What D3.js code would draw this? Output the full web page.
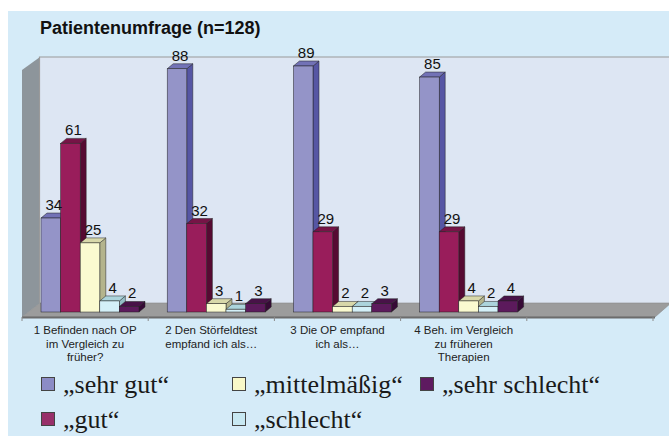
<!DOCTYPE html>
<html>
<head>
<meta charset="utf-8">
<script src="https://cdn.jsdelivr.net/npm/d3@7"></script>
<style>
  body { margin: 0; background: #fff; }
  svg { display: block; }
</style>
</head>
<body>
<svg id="chart"></svg>
<script>
// data
const categories = [
    ["1 Befinden nach OP", "im Vergleich zu", "früher?"],
    ["2 Den Störfeldtest", "empfand ich als…"],
    ["3 Die OP empfand", "ich als…"],
    ["4 Beh. im Vergleich", "zu früheren", "Therapien"]
];
const seriesNames = ["„sehr gut“", "„gut“", "„mittelmäßig“", "„schlecht“", "„sehr schlecht“"];
const sehrGut = [34, 88, 89, 85];
const gut = [61, 32, 29, 29];
const mittel = [25, 3, 2, 4];
const schlecht = [4, 1, 2, 2];
const sehrSchlecht = [2, 3, 3, 4];
const allSeries = [sehrGut, gut, mittel, schlecht, sehrSchlecht];

const colors = [
    { front: "#9494c8", side: "#5656a4", top: "#7272b6", legend: "#8c8cc6" },
    { front: "#991d5b", side: "#560a32", top: "#761446", legend: "#98306a" },
    { front: "#fafad0", side: "#b4b48c", top: "#d8d8aa", legend: "#f8f8c8" },
    { front: "#d4f0f8", side: "#94bec6", top: "#acd4dc", legend: "#c8e8f2" },
    { front: "#5c1a5c", side: "#360a36", top: "#481248", legend: "#5e1a60" }
];

function drawChart() {
    const width = 669, height = 436;
    const svg = d3.select("#chart").attr("width", width).attr("height", height);

    // background
    svg.append("rect").attr("x", 8).attr("y", 11)
        .attr("width", width - 8).attr("height", height - 11)
        .attr("fill", "#d5ebf8");

    svg.append("text")
        .attr("x", 40).attr("y", 34)
        .style("font-family", "Liberation Sans, Arial, sans-serif")
        .style("font-size", "18px").style("font-weight", "bold")
        .attr("fill", "#111")
        .text("Patientenumfrage (n=128)");

    // 3d geometry
    const frontY = 317, backY = 303, barY = 312;
    const dx = 18, dy = 13;          // wall depth
    const bdx = 6, bdy = 5;          // bar depth
    const left = 22, right = 653;

    const y = d3.scaleLinear().domain([0, 89]).range([barY, 66]);
    const wallTop = y(89) - (barY - backY);

    const slots = d3.scaleBand().domain(d3.range(5)).range([left, right]);
    const inner = d3.scaleBand().domain(d3.range(5)).range([19, 19 + 98]);

    // back wall
    svg.append("rect")
        .attr("x", left + dx).attr("y", wallTop)
        .attr("width", width - left - dx).attr("height", backY - wallTop)
        .attr("fill", "#dde6f3");

    // left wall
    svg.append("path")
        .attr("d", `M${left},${wallTop + dy}L${left + dx},${wallTop}L${left + dx},${backY}L${left},${frontY}Z`)
        .attr("fill", "#8d959b");
    svg.append("path")
        .attr("d", `M${left + dx - 0.5},${backY}L${left + dx - 0.5},${wallTop}L${width},${wallTop}`)
        .attr("fill", "none")
        .attr("stroke", "#9a9a9a").attr("stroke-width", 1.2);

    // floor
    svg.append("path")
        .attr("d", `M${left},${frontY}L${left + dx},${backY}L${width + 2},${backY}L${right + 2},${frontY}Z`)
        .attr("fill", "#9c9c9c").attr("stroke", "#8a8a8a").attr("stroke-width", 0.6);
    svg.append("line")
        .attr("x1", left).attr("x2", right + 2)
        .attr("y1", frontY + 0.5).attr("y2", frontY + 0.5)
        .attr("stroke", "#6c6c6c").attr("stroke-width", 2);

    // ticks
    svg.selectAll("line.tick")
        .data(d3.range(6))
        .enter().append("line")
        .attr("class", "tick")
        .attr("x1", i => (i < 5 ? slots(i) : right))
        .attr("x2", i => (i < 5 ? slots(i) : right))
        .attr("y1", frontY).attr("y2", frontY + 4)
        .attr("stroke", "#8a8a8a");

    // bars
    const bars = [];
    categories.forEach((c, ci) => {
        allSeries.forEach((s, si) => {
            bars.push({ ci, si, v: s[ci] });
        });
    });

    const g = svg.append("g");
    bars.forEach(d => {
        const x0 = slots(d.ci) + inner(d.si);
        const w = inner.bandwidth();
        const top = y(d.v);
        const col = colors[d.si];
        const bg = g.append("g");
        bg.append("path")
            .attr("d", `M${x0 + w},${barY}L${x0 + w + bdx},${barY - bdy}L${x0 + w + bdx},${top - bdy}L${x0 + w},${top}Z`)
            .attr("fill", col.side).attr("stroke", "#222").attr("stroke-width", 0.5);
        bg.append("path")
            .attr("d", `M${x0},${top}L${x0 + bdx},${top - bdy}L${x0 + w + bdx},${top - bdy}L${x0 + w},${top}Z`)
            .attr("fill", col.top).attr("stroke", "#222").attr("stroke-width", 0.5);
        bg.append("rect")
            .attr("x", x0).attr("y", top)
            .attr("width", w).attr("height", barY - top)
            .attr("fill", col.front).attr("stroke", "#222").attr("stroke-width", 0.5);
    });

    // value labels
    svg.selectAll("text.val")
        .data(bars)
        .enter().append("text")
        .attr("class", "val")
        .attr("x", d => slots(d.ci) + inner(d.si) + inner.bandwidth() / 2 + 3)
        .attr("y", d => y(d.v) - bdy - 3)
        .attr("text-anchor", "middle")
        .style("font-family", "Liberation Sans, Arial, sans-serif")
        .style("font-size", "15px")
        .attr("fill", "#111")
        .text(d => d.v);

    // category labels
    categories.forEach((lines, ci) => {
        const t = svg.append("text")
            .attr("x", slots(ci) + slots.bandwidth() / 2)
            .attr("y", 334)
            .attr("text-anchor", "middle")
            .style("font-family", "Liberation Sans, Arial, sans-serif")
            .style("font-size", "11.5px")
            .attr("fill", "#222");
        lines.forEach((l, li) => {
            t.append("tspan")
                .attr("x", slots(ci) + slots.bandwidth() / 2)
                .attr("dy", li === 0 ? 0 : 13.5)
                .text(l);
        });
    });

    // legend
    const legendPos = [[41, 0], [41, 1], [232, 0], [232, 1], [420, 0]];
    seriesNames.forEach((name, i) => {
        const [lx, row] = legendPos[i];
        const by = 377 + row * 35;
        svg.append("rect")
            .attr("x", lx + 0.5).attr("y", by + 0.5)
            .attr("width", 13).attr("height", 13)
            .attr("fill", colors[i].legend)
            .attr("stroke", "#444").attr("stroke-width", 1);
        svg.append("text")
            .attr("x", lx + 22).attr("y", by + 16)
            .style("font-family", "Liberation Serif, Times New Roman, serif")
            .style("font-size", "26px")
            .attr("fill", "#1a1a1a")
            .text(name);
    });
}

drawChart();
</script>
</body>
</html>
